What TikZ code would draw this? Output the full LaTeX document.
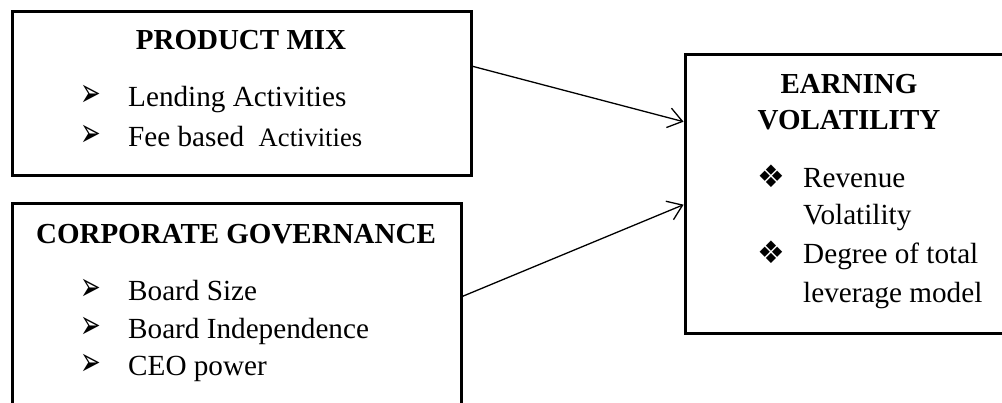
\documentclass[tikz,border=0pt]{standalone}
\usepackage{graphicx}
\usepackage{fontspec}
\setmainfont{Liberation Serif}
\newfontfamily\dingfont{DejaVu Sans}
\usetikzlibrary{arrows.meta,fit,calc}
\newcommand{\arrbul}{\makebox[45pt][l]{\hspace{-3pt}\scalebox{0.65}[1.05]{\dingfont\fontsize{38}{38}\selectfont ➢}}}
\newcommand{\diabul}{\makebox[46pt][l]{\dingfont\fontsize{31}{31}\selectfont ❖}}

\begin{document}
\begin{tikzpicture}[x=1pt,y=-1pt,
    box/.style={draw,line width=3pt,inner sep=0pt},
    cut/.style={inner sep=0pt,outer sep=0pt},
    head/.style={font=\fontsize{29}{34}\selectfont\bfseries,inner sep=0pt,anchor=base},
    item/.style={font=\fontsize{29.2}{34}\selectfont,inner sep=0pt,anchor=base west},
    link/.style={-{Straight Barb[length=14pt,width=20pt]},line width=1.3pt,shorten >=1.5pt}]
  \useasboundingbox (0,0) rectangle (1002,402);
  % boxes (the lower and the right one run past the edge)
  \node[box,fit={(12,11) (471,175)}] (pm) {};
  \node[cut,overlay,fit={(12,203) (461,410)}] (cg) {};
  \node[cut,overlay,fit={(685,54) (1008,333)}] (ev) {};
  \draw[line width=3pt] (cg.south west) -- (cg.north west) -- (cg.north east) -- (cg.south east);
  \draw[line width=3pt] (ev.north east) -- (ev.north west) -- (ev.south west) -- (ev.south east);
  % headings
  \node[head] (pmhead) at (241,49) {PRODUCT MIX};
  \node[head] (cghead) at (236,243) {CORPORATE GOVERNANCE};
  \node[head] (evhead1) at (849,93) {EARNING};
  \node[head] (evhead2) at (849,129) {VOLATILITY};
  % items
  \node[item] (pm1) at (83,106) {\arrbul Lending Activities};
  \node[item] (pm2) at (83,146) {\arrbul Fee based\ \ {\fontsize{26.6}{30}\selectfont Activities}};
  \foreach \y/\t [count=\i] in {300/Board Size,338/Board Independence,375/CEO power}
    \node[item] (cg\i) at (83,\y) {\arrbul\t};
  \node[item] (ev1) at (757,187) {\diabul Revenue};
  \node[item] (ev1b) at (803,224) {Volatility};
  \node[item] (ev2) at (757,263) {\diabul Degree of total};
  \node[item] (ev2b) at (803,302) {leverage model};
  % links
  \draw[link] ($(pm.north east)!0.34!(pm.south east)$) -- ($(ev.north west)!0.244!(ev.south west)$);
  \draw[link] ($(cg.east |- 0,203)!0.454!(cg.south east)$) -- ($(ev.north west)!0.538!(ev.south west)$);
\end{tikzpicture}
\end{document}
